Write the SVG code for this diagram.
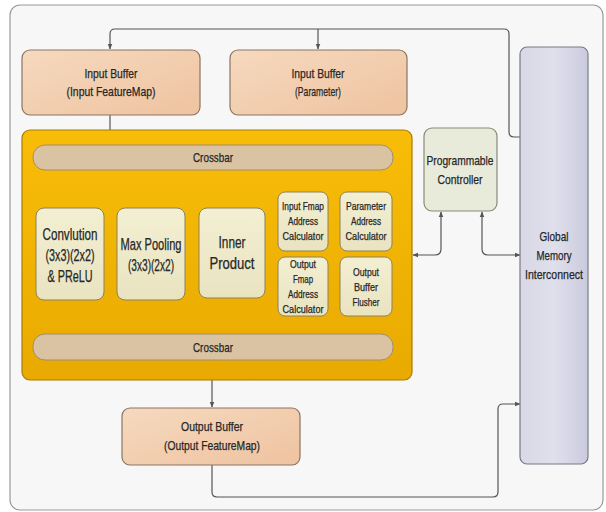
<svg xmlns="http://www.w3.org/2000/svg" width="606" height="512" viewBox="0 0 606 512">
<defs>
<linearGradient id="peach" x1="0" y1="0" x2="1" y2="1"><stop offset="0" stop-color="#f6d9bf"/><stop offset="1" stop-color="#eec3a0"/></linearGradient>
<linearGradient id="gold" x1="0" y1="0" x2="0" y2="1"><stop offset="0" stop-color="#f8bd08"/><stop offset="1" stop-color="#e8aa00"/></linearGradient>
<linearGradient id="lav" x1="0" y1="0" x2="1" y2="0"><stop offset="0" stop-color="#d8d8e6"/><stop offset="0.5" stop-color="#e0e0ec"/><stop offset="1" stop-color="#cacade"/></linearGradient>
<linearGradient id="cream" x1="0" y1="0" x2="0" y2="1"><stop offset="0" stop-color="#f3efd2"/><stop offset="1" stop-color="#e9e3c0"/></linearGradient>
<marker id="ah" viewBox="0 0 10 10" refX="9" refY="5" markerWidth="6" markerHeight="6" orient="auto-start-reverse" markerUnits="userSpaceOnUse"><path d="M0,1 L10,5 L0,9 z" fill="#555"/></marker>
</defs>
<style>
text{font-family:"Liberation Sans Narrow","Liberation Sans",Arial,sans-serif;fill:#262626;stroke:#262626;stroke-width:0.25;text-anchor:middle}
.buf{fill:url(#peach);stroke:#8c7462;stroke-width:1.2}
.xbar{fill:#d9c3a3;stroke:#a58b6c;stroke-width:1}
.unit{fill:url(#cream);stroke:#8f8058;stroke-width:1}
.conn{fill:none;stroke:#555;stroke-width:1.2}
.t12{font-size:13px}
.t14{font-size:16px}
.t10{font-size:10.5px}
</style>
<rect x="0" y="0" width="606" height="512" fill="#ffffff"/>
<rect x="10" y="5" width="593" height="505" rx="10" fill="#f7f7f7" stroke="#9a9a9a" stroke-width="1.2"/>

<g id="connectors">
<path class="conn" d="M520,137 H514 Q509,137 509,132 V34 Q509,29 504,29 H115 Q110,29 110,34 V49" marker-end="url(#ah)"/>
<path class="conn" d="M318,29 V49" marker-end="url(#ah)"/>
<path class="conn" d="M110,115 V145" marker-end="url(#ah)"/>
<path class="conn" d="M70,170 V208" marker-end="url(#ah)"/>
<path class="conn" d="M151,170 V208" marker-end="url(#ah)"/>
<path class="conn" d="M232,170 V208" marker-end="url(#ah)"/>
<path class="conn" d="M70,300 V334" marker-end="url(#ah)"/>
<path class="conn" d="M151,300 V334" marker-end="url(#ah)"/>
<path class="conn" d="M232,298 V334" marker-end="url(#ah)"/>
<path class="conn" d="M212,360 V407" marker-end="url(#ah)"/>
<path class="conn" d="M212,465 V492 Q212,497 217,497 H493 Q498,497 498,492 V409 Q498,404 503,404 H520" marker-end="url(#ah)"/>
<path class="conn" d="M441,212 V249 Q441,255 435,255 H413" marker-start="url(#ah)" marker-end="url(#ah)"/>
<path class="conn" d="M482,212 V249 Q482,255 488,255 H520" marker-start="url(#ah)" marker-end="url(#ah)"/>
</g>

<g id="input-buffer-fmap">
<rect class="buf" x="22" y="50" width="178" height="65" rx="8"/>
<text class="t12" x="111" y="78" textLength="53" lengthAdjust="spacingAndGlyphs">Input Buffer</text>
<text class="t12" x="111" y="96" textLength="89" lengthAdjust="spacingAndGlyphs">(Input FeatureMap)</text>
</g>
<g id="input-buffer-param">
<rect class="buf" x="230" y="50" width="177" height="65" rx="8"/>
<text class="t12" x="318" y="78" textLength="53" lengthAdjust="spacingAndGlyphs">Input Buffer</text>
<text class="t12" x="318" y="96" textLength="46" lengthAdjust="spacingAndGlyphs">(Parameter)</text>
</g>

<g id="accelerator">
<rect x="22" y="130" width="390" height="250" rx="8" fill="url(#gold)" stroke="#a87c00" stroke-width="1.2"/>
</g>
<g id="crossbar-top">
<rect class="xbar" x="33" y="145" width="360" height="25" rx="12"/>
<text class="t12" x="213" y="162" textLength="40" lengthAdjust="spacingAndGlyphs">Crossbar</text>
</g>
<g id="crossbar-bottom">
<rect class="xbar" x="33" y="334" width="360" height="26" rx="12"/>
<text class="t12" x="213" y="352" textLength="40" lengthAdjust="spacingAndGlyphs">Crossbar</text>
</g>
<g id="conv">
<rect class="unit" x="36" y="208" width="68" height="92" rx="8"/>
<text class="t14" x="70" y="240" textLength="55" lengthAdjust="spacingAndGlyphs">Convlution</text>
<text class="t14" x="70" y="261" textLength="49" lengthAdjust="spacingAndGlyphs">(3x3)(2x2)</text>
<text class="t14" x="70" y="282" textLength="45" lengthAdjust="spacingAndGlyphs">&amp; PReLU</text>
</g>
<g id="maxpool">
<rect class="unit" x="117" y="208" width="68" height="92" rx="8"/>
<text class="t14" x="151" y="250" textLength="61" lengthAdjust="spacingAndGlyphs">Max Pooling</text>
<text class="t14" x="151" y="271" textLength="46" lengthAdjust="spacingAndGlyphs">(3x3)(2x2)</text>
</g>
<g id="inner">
<rect class="unit" x="199" y="208" width="66" height="90" rx="8"/>
<text class="t14" x="232" y="248" textLength="27" lengthAdjust="spacingAndGlyphs">Inner</text>
<text class="t14" x="232" y="269" textLength="45" lengthAdjust="spacingAndGlyphs">Product</text>
</g>
<g id="in-fmap-addr">
<rect class="unit" x="278" y="192" width="50" height="59" rx="7"/>
<text class="t10" x="303" y="210" textLength="42" lengthAdjust="spacingAndGlyphs">Input Fmap</text>
<text class="t10" x="303" y="225" textLength="30" lengthAdjust="spacingAndGlyphs">Address</text>
<text class="t10" x="303" y="240" textLength="41" lengthAdjust="spacingAndGlyphs">Calculator</text>
</g>
<g id="param-addr">
<rect class="unit" x="340" y="192" width="52" height="59" rx="7"/>
<text class="t10" x="366" y="210" textLength="40" lengthAdjust="spacingAndGlyphs">Parameter</text>
<text class="t10" x="366" y="225" textLength="30" lengthAdjust="spacingAndGlyphs">Address</text>
<text class="t10" x="366" y="240" textLength="41" lengthAdjust="spacingAndGlyphs">Calculator</text>
</g>
<g id="out-fmap-addr">
<rect class="unit" x="278" y="257" width="50" height="59" rx="7"/>
<text class="t10" x="303" y="268" textLength="26" lengthAdjust="spacingAndGlyphs">Output</text>
<text class="t10" x="303" y="283" textLength="20" lengthAdjust="spacingAndGlyphs">Fmap</text>
<text class="t10" x="303" y="298" textLength="30" lengthAdjust="spacingAndGlyphs">Address</text>
<text class="t10" x="303" y="313" textLength="41" lengthAdjust="spacingAndGlyphs">Calculator</text>
</g>
<g id="out-flusher">
<rect class="unit" x="340" y="257" width="52" height="59" rx="7"/>
<text class="t10" x="366" y="276" textLength="26" lengthAdjust="spacingAndGlyphs">Output</text>
<text class="t10" x="366" y="291" textLength="24" lengthAdjust="spacingAndGlyphs">Buffer</text>
<text class="t10" x="366" y="306" textLength="27" lengthAdjust="spacingAndGlyphs">Flusher</text>
</g>

<g id="controller">
<rect x="424" y="128" width="73" height="83" rx="8" fill="#e9ebda" stroke="#8a8a7a" stroke-width="1.2"/>
<text class="t12" x="460" y="165" textLength="67" lengthAdjust="spacingAndGlyphs">Programmable</text>
<text class="t12" x="460" y="184" textLength="45" lengthAdjust="spacingAndGlyphs">Controller</text>
</g>

<g id="global-memory">
<rect x="520" y="47" width="68" height="417" rx="7" fill="url(#lav)" stroke="#7a7a86" stroke-width="1.2"/>
<text class="t12" x="554" y="241" textLength="29" lengthAdjust="spacingAndGlyphs">Global</text>
<text class="t12" x="554" y="260" textLength="35" lengthAdjust="spacingAndGlyphs">Memory</text>
<text class="t12" x="554" y="279" textLength="58" lengthAdjust="spacingAndGlyphs">Interconnect</text>
</g>

<g id="output-buffer">
<rect class="buf" x="122" y="408" width="178" height="57" rx="8"/>
<text class="t12" x="212" y="431" textLength="62" lengthAdjust="spacingAndGlyphs">Output Buffer</text>
<text class="t12" x="212" y="450" textLength="96" lengthAdjust="spacingAndGlyphs">(Output FeatureMap)</text>
</g>
</svg>
